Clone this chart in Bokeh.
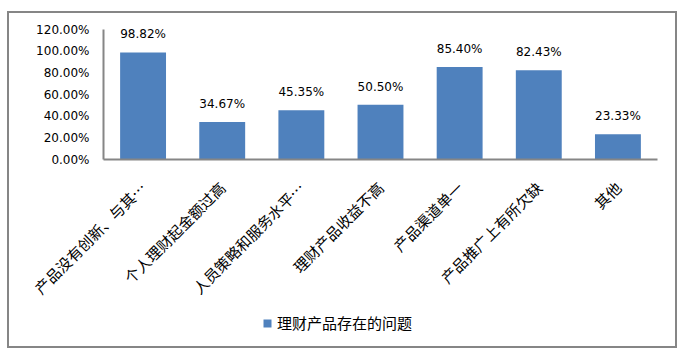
import math
from bokeh.plotting import figure
from bokeh.models import (ColumnDataSource, Range1d, NumeralTickFormatter, FixedTicker,
                          LabelSet, LinearAxis)
from bokeh.core.properties import value
from bokeh.embed import file_html
from bokeh.resources import INLINE

categories = ["产品没有创新、与其…", "个人理财起金额过高", "人员策略和服务水平…", "理财产品收益不高",
              "产品渠道单一", "产品推广上有所欠缺", "其他"]
values = [0.9882, 0.3467, 0.4535, 0.5050, 0.8540, 0.8243, 0.2333]
value_labels = ["98.82%", "34.67%", "45.35%", "50.50%", "85.40%", "82.43%", "23.33%"]
y_ticks = [0.0, 0.2, 0.4, 0.6, 0.8, 1.0, 1.2]
series_name = "理财产品存在的问题"

n = len(categories)
cat_pos = [i + 0.5 for i in range(n)]  # category slot centres
src = ColumnDataSource(dict(x=cat_pos, cat=categories, val=values, lab=value_labels))

# frame covers the whole canvas; axes are placed at fixed data locations
px_x = 554 / n          # px per category slot
px_y = 130 / 1.2        # px per unit of y
x_range = Range1d(-94 / px_x, n + 18 / px_x)
y_range = Range1d(-187 / px_y, 1.2 + 16 / px_y)

p = figure(x_range=x_range, y_range=y_range,
           width=666, height=333, frame_width=666, frame_height=333,
           min_border_left=0, min_border_right=0, min_border_top=0, min_border_bottom=0,
           x_axis_location=None, y_axis_location=None,
           output_backend="svg", toolbar_location=None, tools="")
p.margin = (11, 0, 0, 7)
p.styles = {"border": "2px solid #868686"}
p.background_fill_color = "white"
p.border_fill_color = "white"
p.outline_line_color = None
p.grid.visible = False

p.vbar(x="x", top="val", width=0.58, source=src, fill_color="#4f81bd", line_color=None,
       legend_label=series_name)

labels = LabelSet(x="x", y="val", text="lab", source=src, text_align="center", text_baseline="bottom",
                  y_offset=11, text_font=value("DejaVu Sans"), text_font_size="12px", text_color="#000000")
p.add_layout(labels)

xaxis = LinearAxis(fixed_location=0, bounds=(0, n))
xaxis.ticker = FixedTicker(ticks=cat_pos)
xaxis.major_label_overrides = {pos: c for pos, c in zip(cat_pos, categories)}
p.add_layout(xaxis, "below")

yaxis = LinearAxis(fixed_location=0, bounds=(0, 1.2))
yaxis.ticker = FixedTicker(ticks=y_ticks)
yaxis.formatter = NumeralTickFormatter(format="0.00%")
p.add_layout(yaxis, "left")

for ax in (xaxis, yaxis):
    ax.axis_line_color = "#868686"
    ax.axis_line_width = 2
    ax.major_tick_line_color = None
    ax.minor_tick_line_color = None
    ax.major_label_text_color = "#000000"
yaxis.major_label_text_font = "DejaVu Sans"
yaxis.major_label_text_font_size = "12px"
yaxis.major_label_standoff = 8
xaxis.major_label_text_font = "Noto Sans CJK SC"
xaxis.major_label_text_font_size = "15px"
xaxis.major_label_orientation = math.pi / 4
xaxis.major_label_standoff = 19

leg = p.legend[0]
leg.location = (253, 13)
leg.border_line_color = None
leg.background_fill_alpha = 0
leg.padding = 0
leg.margin = 0
leg.glyph_width = 10
leg.glyph_height = 10
leg.label_standoff = 5
leg.label_text_font = "Noto Sans CJK SC"
leg.label_text_font_size = "15px"
leg.label_text_color = "#000000"

open("out.html", "w").write(file_html(p, INLINE))
